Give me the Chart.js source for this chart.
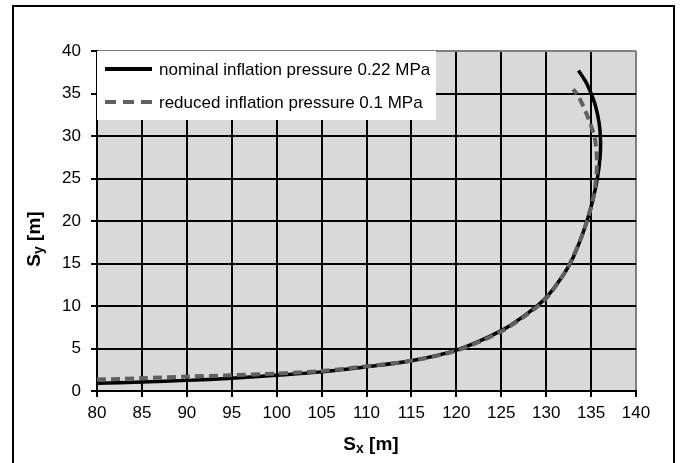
<!DOCTYPE html>
<html>
<head>
<meta charset="utf-8">
<script src="https://cdn.jsdelivr.net/npm/chart.js@4"></script>
<style>
  body { margin: 0; background: #fff; }
  canvas { display: block; }
</style>
</head>
<body>
<canvas id="myChart" width="680" height="463"></canvas>
<script>
// trajectory points, Sx / Sy in metres
const sxNominal = [80, 85, 90, 95, 100, 105, 110, 115, 120, 125, 128, 130, 132, 133, 134, 134.6, 135.2, 135.7, 136.0, 136.05, 135.9, 135.5, 135.0, 134.4, 133.6];
const syNominal = [0.9, 1.05, 1.25, 1.5, 1.85, 2.25, 2.85, 3.55, 4.8, 7.1, 9.2, 11.0, 13.8, 15.7, 18.3, 20.2, 22.5, 25.0, 27.5, 29.5, 31.5, 33.5, 35.0, 36.4, 37.7];

const sxReduced = [80, 85, 90, 95, 100, 105, 110, 115, 120, 125, 128, 130, 132, 133, 134, 134.7, 135.2, 135.5, 135.65, 135.6, 135.4, 135.0, 134.5, 134.0, 133.5, 133.0];
const syReduced = [1.35, 1.5, 1.7, 1.85, 2.05, 2.35, 2.9, 3.55, 4.75, 7.0, 9.1, 10.9, 13.8, 15.8, 18.3, 20.5, 22.5, 24.5, 26.5, 28.2, 29.8, 31.2, 32.6, 33.8, 34.8, 35.5];

const seriesLabels = ['nominal inflation pressure 0.22 MPa', 'reduced inflation pressure 0.1 MPa'];

const xTicks = [80, 85, 90, 95, 100, 105, 110, 115, 120, 125, 130, 135, 140];
const yTicks = [0, 5, 10, 15, 20, 25, 30, 35, 40];

function toPoints(xs, ys) {
  return xs.map((x, i) => ({ x: x, y: ys[i] }));
}

const FONT = '"Liberation Sans", Arial, sans-serif';

// grey plot background + outer frame
const framePlugin = {
  id: 'frame',
  beforeDraw(chart) {
    const ctx = chart.ctx;
    const a = chart.chartArea;
    ctx.save();
    ctx.fillStyle = '#fff';
    ctx.fillRect(0, 0, chart.width, chart.height);
    ctx.fillStyle = '#d9d9d9';
    ctx.fillRect(a.left, a.top, a.right - a.left, a.bottom - a.top);
    ctx.restore();
  },
  afterDraw(chart) {
    const ctx = chart.ctx;
    ctx.save();
    ctx.strokeStyle = '#000';
    ctx.lineWidth = 2;
    ctx.strokeRect(13, 6, 661, 470);

    // axis titles with subscripts
    function title(main, sub, rest, cx, cy, rot) {
      ctx.save();
      ctx.translate(cx, cy);
      ctx.rotate(rot);
      ctx.fillStyle = '#000';
      ctx.textBaseline = 'alphabetic';
      const big = 'bold 19px ' + FONT;
      const small = 'bold 14px ' + FONT;
      ctx.font = big;
      const w1 = ctx.measureText(main).width;
      const w3 = ctx.measureText(rest).width;
      ctx.font = small;
      const w2 = ctx.measureText(sub).width;
      let x = -(w1 + w2 + w3) / 2;
      ctx.font = big;
      ctx.fillText(main, x, 7);
      x += w1;
      ctx.font = small;
      ctx.fillText(sub, x, 10);
      x += w2;
      ctx.font = big;
      ctx.fillText(rest, x, 7);
      ctx.restore();
    }
    title('S', 'x', ' [m]', 371, 443, 0);
    title('S', 'y', ' [m]', 33, 239, -Math.PI / 2);
    ctx.restore();
  }
};

// white legend box in the top left corner of the plot
const legendBox = {
  id: 'legendBox',
  afterDatasetsDraw(chart) {
    const ctx = chart.ctx;
    const a = chart.chartArea;
    ctx.save();
    ctx.fillStyle = '#fff';
    ctx.fillRect(a.left, a.top, 339, 69);
    chart.data.datasets.forEach((ds, i) => {
      const y = a.top + 18 + i * 33;
      ctx.beginPath();
      ctx.strokeStyle = ds.borderColor;
      ctx.lineWidth = 4;
      ctx.setLineDash(ds.borderDash ? [11, 7] : []);
      ctx.moveTo(a.left + 8, y);
      ctx.lineTo(a.left + 55, y);
      ctx.stroke();
      ctx.setLineDash([]);
      ctx.fillStyle = '#000';
      ctx.font = '17px ' + FONT;
      ctx.textBaseline = 'middle';
      ctx.fillText(ds.label, a.left + 62, y + 1);
    });
    ctx.restore();
  }
};

const myChart = document.getElementById('myChart');

new Chart(myChart, {
  type: 'scatter',
  data: {
    datasets: [
      {
        label: seriesLabels[0],
        data: toPoints(sxNominal, syNominal),
        showLine: true,
        borderColor: '#000',
        borderWidth: 3.5,
        pointRadius: 0,
        tension: 0.3,
        order: 1
      },
      {
        label: seriesLabels[1],
        data: toPoints(sxReduced, syReduced),
        showLine: true,
        borderColor: '#606060',
        borderWidth: 4,
        borderDash: [9, 5],
        pointRadius: 0,
        tension: 0.3,
        order: 0
      }
    ]
  },
  options: {
    responsive: false,
    animation: false,
    devicePixelRatio: 1,
    layout: { padding: { left: 12, top: 51, right: 44, bottom: 12 } },
    plugins: {
      legend: { display: false },
      tooltip: { enabled: false }
    },
    scales: {
      x: {
        type: 'linear',
        min: 80,
        max: 140,
        afterBuildTicks: axis => { axis.ticks = xTicks.map(v => ({ value: v })); },
        afterFit: axis => { axis.height = 60; },
        grid: {
          color: ctx => ctx.tick && ctx.tick.value === 140 ? '#808080' : '#000',
          lineWidth: 2,
          tickColor: '#000',
          tickLength: 6
        },
        border: { color: '#000', width: 2 },
        ticks: {
          color: '#000',
          font: { family: FONT, size: 17 },
          padding: 6,
          maxRotation: 0
        }
      },
      y: {
        type: 'linear',
        min: 0,
        max: 40,
        afterBuildTicks: axis => { axis.ticks = yTicks.map(v => ({ value: v })); },
        afterFit: axis => { axis.width = 85; },
        grid: {
          color: ctx => ctx.tick && ctx.tick.value === 40 ? '#808080' : '#000',
          lineWidth: 2,
          tickColor: '#000',
          tickLength: 6
        },
        border: { color: '#000', width: 2 },
        ticks: {
          color: '#000',
          font: { family: FONT, size: 17 },
          padding: 10
        }
      }
    }
  },
  plugins: [framePlugin, legendBox]
});
</script>
</body>
</html>
